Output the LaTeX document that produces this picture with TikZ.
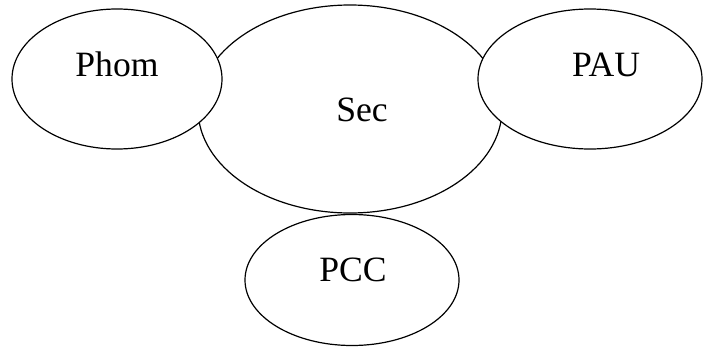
\documentclass[tikz,border=0pt]{standalone}
\usepackage{fontspec}
\setmainfont{Liberation Serif}
\usetikzlibrary{shapes.geometric}

\tikzset{
  blob/.style={ellipse,draw,fill=white,line width=1.2pt,inner sep=0pt},
  tag/.style={anchor=base,font=\fontsize{35.6}{40}\selectfont}
}

\begin{document}
\begin{tikzpicture}[x=1pt,y=-1pt]
            \useasboundingbox (0,0) rectangle (704,356);
            \node[blob,minimum width=304pt,minimum height=208pt] (sec) at (350,109) {};
            \node[blob,minimum width=210pt,minimum height=140pt] (phom) at (117,79) {};
            \node[blob,minimum width=224pt,minimum height=140pt] (pau) at (590,79) {};
            \node[blob,minimum width=214pt,minimum height=131pt] (pcc) at (352,280) {};
            \node[tag] (phomtext) at (117,76) {Phom};
            \node[tag] (sectext) at (362,121) {Sec};
            \node[tag] (pautext) at (606,76) {PAU};
            \node[tag] (pcctext) at (353,281) {PCC};
        \end{tikzpicture}
\end{document}
